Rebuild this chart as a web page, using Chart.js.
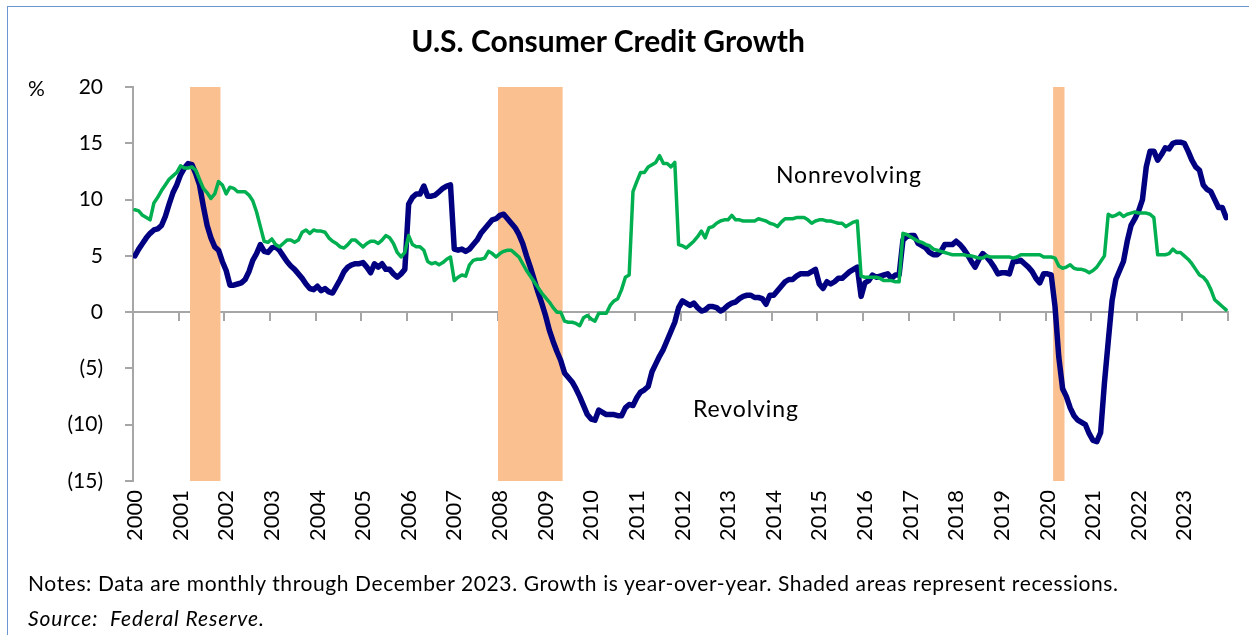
<!DOCTYPE html>
<html>
<head>
<meta charset="utf-8">
<script src="https://cdn.jsdelivr.net/npm/chart.js@4/dist/chart.umd.min.js"></script>
<style>
html,body{margin:0;padding:0;background:#fff;width:1249px;height:635px;overflow:hidden;}
#frame{position:absolute;left:7px;top:6px;width:1300px;height:700px;border-left:1px solid #6a96d2;border-top:1px solid #6a96d2;}
canvas{position:absolute;left:0;top:0;}
.t{position:absolute;font-family:Lato,"Open Sans",sans-serif;color:#000;white-space:nowrap;line-height:1;}
#title{left:608px;top:40px;transform:translate(-50%,-50%);font-weight:bold;font-size:30px;}
#pct{left:28px;top:87px;transform:translateY(-50%);font-size:21px;}
#lblNon{left:776px;top:174px;transform:translateY(-50%);font-size:23px;letter-spacing:0.9px;}
#lblRev{left:693px;top:408px;transform:translateY(-50%);font-size:23px;letter-spacing:0.9px;}
#notes{left:28px;top:582px;transform:translateY(-50%);font-size:21px;letter-spacing:0.6px;}
#source{left:28px;top:617px;transform:translateY(-50%);font-size:21px;letter-spacing:0.9px;font-style:italic;}
</style>
</head>
<body>
<div id="frame"></div>
<canvas id="c" width="1249" height="635"></canvas>
<div class="t" id="title">U.S. Consumer Credit Growth</div>
<div class="t" id="pct">%</div>
<div class="t" id="lblNon">Nonrevolving</div>
<div class="t" id="lblRev">Revolving</div>
<div class="t" id="notes">Notes: Data are monthly through December 2023. Growth is year-over-year. Shaded areas represent recessions.</div>
<div class="t" id="source">Source:&nbsp; Federal Reserve.</div>
<script>
// Year labels (one per January, monthly data Jan 2000 - Dec 2023)
const years = ['2000','2001','2002','2003','2004','2005','2006','2007','2008','2009','2010','2011',
               '2012','2013','2014','2015','2016','2017','2018','2019','2020','2021','2022','2023'];

// Y-axis tick values and labels
const yTickValues = [-15, -10, -5, 0, 5, 10, 15, 20];
const yTickLabels = ['(15)', '(10)', '(5)', '0', '5', '10', '15', '20'];

// Revolving credit growth, % y/y, monthly
const revolving = [
  5.0, 5.6, 6.1, 6.6, 7.0, 7.3, 7.4, 7.7, 8.5, 9.6, 10.6, 11.3,       // 2000
  12.2, 12.8, 13.2, 13.1, 12.3, 11.3, 9.4, 7.7, 6.6, 5.8, 5.5, 4.5,   // 2001
  3.7, 2.4, 2.4, 2.5, 2.6, 2.9, 3.6, 4.6, 5.2, 6.0, 5.4, 5.3,         // 2002
  5.7, 5.8, 5.5, 5.0, 4.5, 4.1, 3.8, 3.4, 3.0, 2.5, 2.1, 2.0,         // 2003
  2.3, 1.9, 2.1, 1.8, 1.7, 2.3, 2.9, 3.6, 4.0, 4.2, 4.3, 4.3,         // 2004
  4.4, 4.0, 3.5, 4.3, 4.0, 4.3, 3.8, 3.8, 3.4, 3.1, 3.4, 3.8,         // 2005
  9.6, 10.2, 10.5, 10.5, 11.2, 10.3, 10.3, 10.4, 10.7, 11.0, 11.2, 11.3, // 2006
  5.6, 5.5, 5.6, 5.4, 5.6, 6.0, 6.4, 7.0, 7.4, 7.8, 8.2, 8.3,         // 2007
  8.6, 8.7, 8.3, 7.9, 7.5, 6.9, 6.1, 5.0, 4.0, 2.9, 1.8, 0.8,         // 2008
  -0.3, -1.6, -2.6, -3.5, -4.3, -5.4, -5.8, -6.2, -6.8, -7.5, -8.3, -9.1, // 2009
  -9.5, -9.6, -8.7, -8.9, -9.1, -9.1, -9.1, -9.2, -9.2, -8.5, -8.2, -8.3, // 2010
  -7.6, -7.1, -6.9, -6.6, -5.3, -4.6, -3.9, -3.3, -2.5, -1.7, -0.9, 0.4,  // 2011
  1.0, 0.8, 0.6, 0.8, 0.4, 0.1, 0.2, 0.5, 0.5, 0.4, 0.1, 0.3,         // 2012
  0.6, 0.8, 0.9, 1.2, 1.4, 1.5, 1.5, 1.3, 1.3, 1.2, 0.7, 1.5,         // 2013
  1.5, 1.9, 2.3, 2.7, 2.9, 2.9, 3.2, 3.4, 3.4, 3.4, 3.6, 3.8,         // 2014
  2.5, 2.1, 2.7, 2.5, 2.7, 3.0, 3.0, 3.3, 3.6, 3.8, 4.0, 1.4,         // 2015
  2.6, 2.8, 3.3, 3.1, 3.2, 3.3, 3.4, 3.0, 3.3, 3.3, 6.4, 6.7,         // 2016
  6.8, 6.8, 6.1, 5.9, 5.7, 5.3, 5.1, 5.1, 5.4, 6.0, 6.0, 6.0,         // 2017
  6.3, 6.0, 5.6, 5.1, 4.5, 4.0, 4.7, 5.2, 4.9, 4.5, 4.0, 3.4,         // 2018
  3.5, 3.5, 3.4, 4.5, 4.5, 4.6, 4.3, 4.0, 3.6, 3.0, 2.6, 3.4,         // 2019
  3.4, 3.3, 0.5, -4.0, -6.8, -7.5, -8.5, -9.2, -9.6, -9.8, -10.0, -10.8, // 2020
  -11.4, -11.5, -10.7, -6.3, -2.6, 1.0, 2.9, 3.7, 4.5, 6.3, 7.7, 8.3,  // 2021
  9.0, 10.0, 12.9, 14.3, 14.3, 13.5, 14.0, 14.6, 14.5, 15.0, 15.1, 15.1, // 2022
  15.0, 14.3, 13.5, 12.9, 12.6, 11.3, 10.9, 10.7, 10.0, 9.3, 9.3, 8.4   // 2023
];

// Nonrevolving credit growth, % y/y, monthly
const nonrevolving = [
  9.1, 9.0, 8.6, 8.4, 8.2, 9.7, 10.2, 10.8, 11.3, 11.8, 12.1, 12.4,   // 2000
  13.0, 12.8, 12.8, 12.9, 12.6, 11.8, 11.0, 10.6, 10.1, 10.5, 11.6, 11.3, // 2001
  10.5, 11.1, 11.0, 10.7, 10.7, 10.7, 10.4, 9.9, 8.9, 7.6, 6.3, 6.2,  // 2002
  6.5, 6.0, 5.8, 6.1, 6.4, 6.4, 6.2, 6.4, 7.1, 7.3, 7.0, 7.3,         // 2003
  7.2, 7.2, 7.1, 6.6, 6.3, 6.1, 5.8, 5.7, 6.0, 6.4, 6.4, 6.1,         // 2004
  5.8, 6.1, 6.3, 6.3, 6.1, 6.4, 6.8, 6.6, 6.1, 5.3, 4.9, 5.3,         // 2005
  6.8, 6.0, 5.8, 5.8, 5.5, 4.5, 4.3, 4.4, 4.2, 4.4, 4.7, 4.9,         // 2006
  2.8, 3.1, 3.3, 3.2, 4.2, 4.6, 4.7, 4.7, 4.8, 5.4, 5.2, 4.9,         // 2007
  5.2, 5.4, 5.5, 5.5, 5.2, 4.9, 4.3, 3.7, 3.2, 2.7, 2.2, 1.7,         // 2008
  1.3, 0.9, 0.4, 0.0, 0.0, -0.8, -0.9, -0.9, -1.0, -1.2, -0.5, -0.3,  // 2009
  -0.6, -0.8, -0.1, -0.1, -0.1, 0.6, 1.0, 1.2, 2.0, 3.1, 3.3, 10.7,   // 2010
  11.6, 12.4, 12.4, 12.9, 13.1, 13.3, 13.9, 13.2, 13.2, 12.9, 13.3, 6.0, // 2011
  5.9, 5.7, 6.0, 6.3, 6.7, 7.2, 6.6, 7.5, 7.6, 7.9, 8.1, 8.2,         // 2012
  8.2, 8.6, 8.2, 8.2, 8.1, 8.1, 8.1, 8.1, 8.3, 8.2, 8.1, 7.9,         // 2013
  7.8, 7.6, 8.0, 8.3, 8.3, 8.3, 8.4, 8.4, 8.4, 8.2, 7.9, 8.1,         // 2014
  8.2, 8.2, 8.1, 8.1, 8.0, 7.9, 7.9, 7.6, 7.8, 8.0, 8.1, 3.2,         // 2015
  3.1, 3.1, 3.1, 3.1, 3.0, 2.8, 2.8, 2.8, 2.7, 2.7, 7.0, 6.9,         // 2016
  6.7, 6.5, 6.3, 6.2, 6.0, 5.9, 5.6, 5.5, 5.4, 5.3, 5.2, 5.1,         // 2017
  5.1, 5.1, 5.1, 5.0, 5.0, 4.9, 4.8, 4.8, 5.0, 4.9, 4.9, 4.9,         // 2018
  4.9, 4.9, 4.9, 4.8, 4.9, 5.1, 5.1, 5.1, 5.1, 5.1, 5.1, 4.9,         // 2019
  4.9, 4.9, 4.8, 4.1, 3.9, 4.0, 4.2, 3.9, 3.8, 3.8, 3.7, 3.5,         // 2020
  3.7, 4.0, 4.5, 5.0, 8.7, 8.5, 8.6, 8.8, 8.5, 8.7, 8.8, 8.9,         // 2021
  8.8, 8.8, 8.8, 8.7, 8.4, 5.1, 5.1, 5.1, 5.2, 5.6, 5.3, 5.3,         // 2022
  5.0, 4.7, 4.3, 3.8, 3.3, 3.1, 2.7, 2.0, 1.1, 0.8, 0.5, 0.2          // 2023
];

// Recessions, as month index from Jan 2000 (start inclusive, end exclusive)
const recessionStart = [15, 96, 242];
const recessionEnd   = [23, 113, 245];

const monthsPerYear = 12;
const nMonths = years.length * monthsPerYear;
const toPoints = arr => arr.map((v, i) => ({ x: i + 0.5, y: v }));
const yearTicks = years.map((_, i) => ({ value: i * monthsPerYear }));
const boundaryTicks = yearTicks.concat([{ value: nMonths }]);

Chart.defaults.font.family = 'Lato, "Open Sans", sans-serif';
Chart.defaults.color = '#000';

const recessionPlugin = {
  id: 'recessions',
  beforeDatasetsDraw(chart) {
    const { ctx, chartArea: a, scales: { x } } = chart;
    ctx.save();
    ctx.fillStyle = '#FAC090';
    recessionStart.forEach((s, i) => {
      const x0 = x.getPixelForValue(s);
      const x1 = x.getPixelForValue(recessionEnd[i]);
      ctx.fillRect(x0, a.top, x1 - x0, a.bottom - a.top);
    });
    ctx.restore();
  }
};

new Chart(document.getElementById('c'), {
  type: 'line',
  data: {
    datasets: [
      { label: 'Nonrevolving', data: toPoints(nonrevolving), borderColor: '#00B050', borderWidth: 3.5,
        pointRadius: 0, tension: 0, borderJoinStyle: 'round', borderCapStyle: 'round', order: 0 },
      { label: 'Revolving', data: toPoints(revolving), borderColor: '#000080', borderWidth: 5.5,
        pointRadius: 0, tension: 0, borderJoinStyle: 'round', borderCapStyle: 'round', order: 1 }
    ]
  },
  options: {
    responsive: false,
    animation: false,
    devicePixelRatio: 1,
    layout: { padding: { left: 0, top: 87, right: 21, bottom: 74 } },
    plugins: { legend: { display: false }, tooltip: { enabled: false }, title: { display: false } },
    scales: {
      x: {
        type: 'linear', min: 0, max: nMonths, position: 'bottom',
        afterFit(s) { s.height = 80; },
        afterBuildTicks(s) { s.ticks = yearTicks.map(t => ({ value: t.value })); },
        grid: { display: false, drawTicks: false },
        border: { display: false },
        ticks: { autoSkip: false, maxRotation: 90, minRotation: 90, padding: 9, labelOffset: 2,
                 font: { size: 22 }, callback: (v, i) => years[i] }
      },
      x2: {
        type: 'linear', min: 0, max: nMonths, position: { y: 0 },
        afterBuildTicks(s) { s.ticks = boundaryTicks.map(t => ({ value: t.value })); },
        grid: { drawOnChartArea: false, drawTicks: true, tickLength: 8, color: '#a6a6a6', lineWidth: 2 },
        border: { display: true, color: '#a6a6a6', width: 2 },
        ticks: { display: false }
      },
      y: {
        type: 'linear', min: -15, max: 20, position: 'left',
        afterFit(s) { s.width = 133; },
        afterBuildTicks(s) { s.ticks = yTickValues.map(v => ({ value: v })); },
        ticks: { padding: 22, font: { size: 21 }, callback: (v, i) => yTickLabels[i] },
        grid: { drawOnChartArea: false, drawTicks: true, tickLength: 8, color: '#a6a6a6', lineWidth: 2 },
        border: { color: '#a6a6a6', width: 2 }
      }
    }
  },
  plugins: [recessionPlugin]
});
</script>
</body>
</html>
